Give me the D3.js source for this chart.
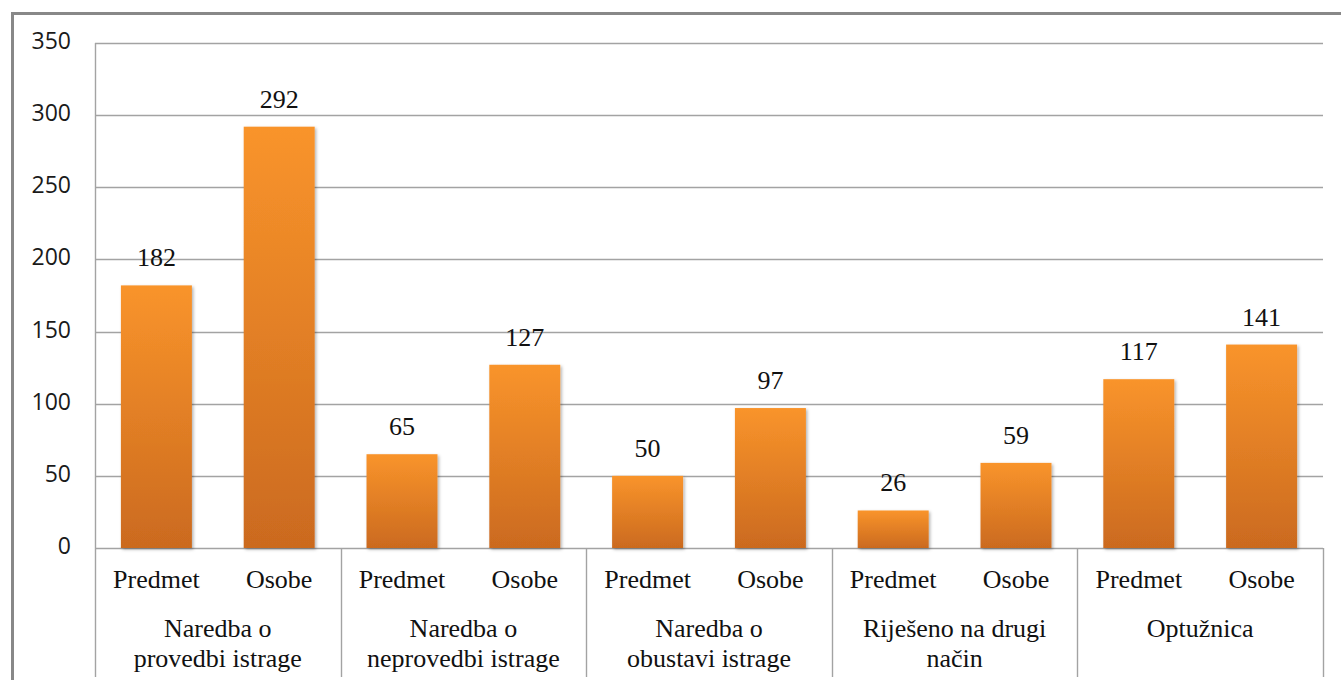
<!DOCTYPE html>
<html>
<head>
<meta charset="utf-8">
<script src="https://cdn.jsdelivr.net/npm/d3@7"></script>
</head>
<body style="margin:0">
<svg id="chart" width="1341" height="680" style="display:block"></svg>
<script>
const groups = [
  ["Naredba o", "provedbi istrage"],
  ["Naredba o", "neprovedbi istrage"],
  ["Naredba o", "obustavi istrage"],
  ["Riješeno na drugi", "način"],
  ["Optužnica"]
];
const subCategories = ["Predmet", "Osobe"];
const predmetValues = [182, 65, 50, 26, 117];
const osobeValues = [292, 127, 97, 59, 141];
const yTicks = [0, 50, 100, 150, 200, 250, 300, 350];

(function () {
const svg = d3.select("#chart");
const mLeft = 95, mRight = 1323, mTop = 43, mBottom = 548;
const serif = sel => sel.style("font-family", "'Times New Roman'").style("font-size", "26px").style("fill", "#111");

svg.append("rect").attr("x", 12.5).attr("y", 13.5).attr("width", 1345).attr("height", 700)
  .attr("fill", "#fff").attr("stroke", "#888").attr("stroke-width", 3);

const defs = svg.append("defs");
const grad = defs.append("linearGradient").attr("id", "barGrad").attr("x1", 0).attr("y1", 0).attr("x2", 0).attr("y2", 1);
grad.append("stop").attr("offset", "0%").attr("stop-color", "#F9942B");
grad.append("stop").attr("offset", "100%").attr("stop-color", "#CB6A1F");
const f = defs.append("filter").attr("id", "shadow").attr("x", "-20%").attr("y", "-20%").attr("width", "140%").attr("height", "140%");
f.append("feDropShadow").attr("dx", 1.5).attr("dy", 1.5).attr("stdDeviation", 1.5).attr("flood-color", "#000").attr("flood-opacity", 0.3);

const groupIdx = groups.map((g, i) => i);
const x0 = d3.scaleBand().domain(groupIdx).range([mLeft, mRight]).padding(0);
const x1 = d3.scaleBand().domain(subCategories).range([0, x0.bandwidth()]).paddingInner(0.422).paddingOuter(0.211);
const y = d3.scaleLinear().domain([0, 350]).range([mBottom, mTop]);

svg.append("g").selectAll("line").data(yTicks).join("line")
  .attr("x1", mLeft).attr("x2", mRight)
  .attr("y1", d => Math.round(y(d)) + 0.5).attr("y2", d => Math.round(y(d)) + 0.5)
  .attr("stroke", "#a3a3a3").attr("stroke-width", 1.4);

svg.append("line").attr("x1", mLeft + 0.5).attr("x2", mLeft + 0.5).attr("y1", mTop).attr("y2", 677)
  .attr("stroke", "#a3a3a3").attr("stroke-width", 1.4);

svg.append("g").selectAll("line").data(groupIdx).join("line")
  .attr("x1", d => Math.round(x0(d) + x0.bandwidth()) + 0.5)
  .attr("x2", d => Math.round(x0(d) + x0.bandwidth()) + 0.5)
  .attr("y1", mBottom).attr("y2", 677)
  .attr("stroke", "#a3a3a3").attr("stroke-width", 1.4);

svg.append("g").selectAll("text").data(yTicks).join("text")
  .style("font-family", "'Open Sans'").style("font-size", "23px").style("fill", "#1a1a1a")
  .attr("x", 71).attr("y", d => y(d) + 6)
  .attr("text-anchor", "end")
  .text(d => d);

const barData = [];
groupIdx.forEach(i => {
  barData.push({g: i, s: "Predmet", v: predmetValues[i]});
  barData.push({g: i, s: "Osobe", v: osobeValues[i]});
});
svg.append("g").selectAll("rect").data(barData).join("rect")
  .attr("x", d => x0(d.g) + x1(d.s))
  .attr("y", d => y(d.v))
  .attr("width", x1.bandwidth())
  .attr("height", d => y(0) - y(d.v))
  .attr("fill", "url(#barGrad)")
  .attr("filter", "url(#shadow)");

svg.append("g").selectAll("text").data(barData).join("text")
  .call(serif)
  .attr("x", d => x0(d.g) + x1(d.s) + x1.bandwidth() / 2)
  .attr("y", d => y(d.v) - 19)
  .attr("text-anchor", "middle")
  .text(d => d.v);

svg.append("g").selectAll("text").data(barData).join("text")
  .call(serif)
  .attr("x", d => x0(d.g) + x1(d.s) + x1.bandwidth() / 2)
  .attr("y", 588)
  .attr("text-anchor", "middle")
  .text(d => d.s);

groupIdx.forEach(gi => {
  groups[gi].forEach((line, k) => {
    svg.append("text").call(serif)
      .attr("x", x0(gi) + x0.bandwidth() / 2)
      .attr("y", 637 + k * 30)
      .attr("text-anchor", "middle")
      .text(line);
  });
});
})();
</script>
</body>
</html>
